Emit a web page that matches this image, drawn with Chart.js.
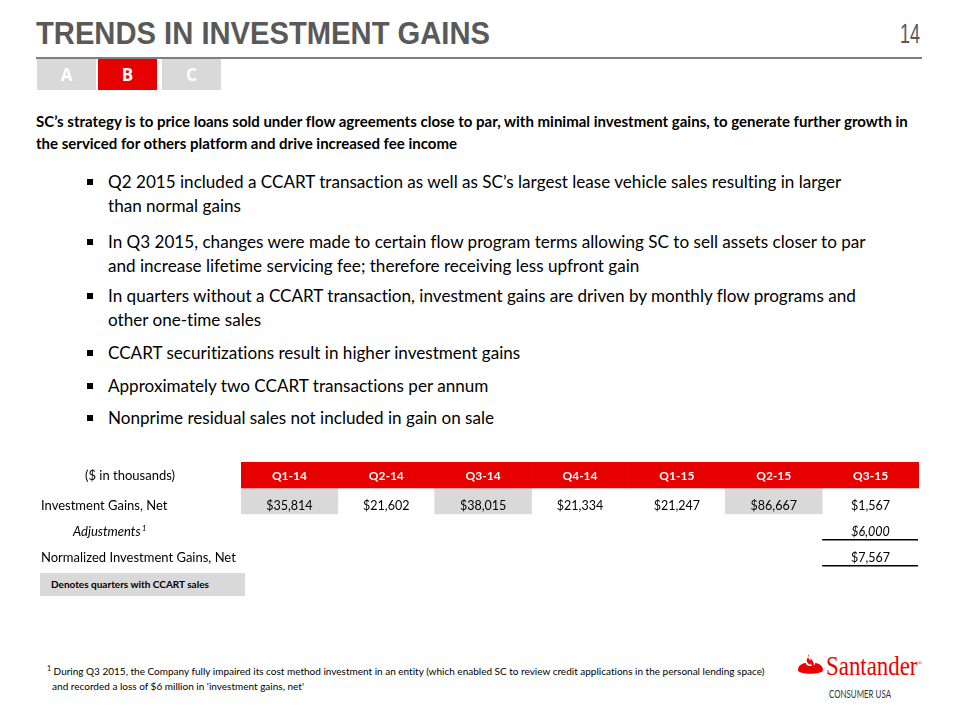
<!DOCTYPE html>
<html>
<head>
<meta charset="utf-8">
<script src="https://cdn.jsdelivr.net/npm/chart.js@4"></script>
<style>
  body { margin:0; width:960px; height:720px; background:#fff; position:relative; overflow:hidden; font-family:Lato, "Open Sans", sans-serif; color:#000; font-variant-ligatures:none; }
  .abs { position:absolute; white-space:nowrap; }
  .fit { transform-origin:0 0; }
  #title { left:36px; top:15px; font:bold 32px "Liberation Sans", sans-serif; color:#595959; }
  #pagenum { left:900px; top:19px; font:27px "Liberation Sans", sans-serif; color:#595959; }
  #rule { left:36px; top:57px; width:886px; height:2px; background:#7f7f7f; }
  .tab { position:absolute; top:59px; width:59px; height:31px; background:#d9d9d9; color:#fff; font:bold 17px "Open Sans", sans-serif; text-align:center; line-height:31px; }
  #intro { left:36px; top:110px; font-weight:bold; font-size:15px; line-height:22px; }
  .bullet { position:absolute; left:108px; font-size:17.1px; line-height:24px; white-space:nowrap; }
  .bullet::before { content:""; position:absolute; left:-21px; top:9px; width:6px; height:6px; background:#000; }
  #legendBox { left:40px; top:573px; width:205px; height:23px; background:#d9d9d9; font:bold 10px Lato, sans-serif; line-height:23px; padding-left:11px; box-sizing:border-box; }
  #footnote { left:47px; top:661px; font-size:10px; line-height:15px; color:#000; }
  #logoText { left:826px; top:651px; font:27px "Liberation Serif", serif; color:#ec0000; }
  #logoSub { left:829px; top:687px; font:11px Lato, sans-serif; color:#333; }
</style>
</head>
<body>
<div id="title" class="abs fit" data-w="454">TRENDS IN INVESTMENT GAINS</div>
<div id="pagenum" class="abs fit" data-w="20">14</div>
<div id="rule" class="abs"></div>
<div class="tab" style="left:37px">A</div>
<div class="tab" style="left:98px;background:#e60000">B</div>
<div class="tab" style="left:162px">C</div>

<div id="intro" class="abs">SC’s strategy is to price loans sold under flow agreements close to par, with minimal investment gains, to generate further growth in<br>the serviced for others platform and drive increased fee income</div>

<div class="bullet" style="top:170px">Q2 2015 included a CCART transaction as well as SC’s largest lease vehicle sales resulting in larger<br>than normal gains</div>
<div class="bullet" style="top:230px">In Q3 2015, changes were made to certain flow program terms allowing SC to sell assets closer to par<br>and increase lifetime servicing fee; therefore receiving less upfront gain</div>
<div class="bullet" style="top:284px">In quarters without a CCART transaction, investment gains are driven by monthly flow programs and<br>other one-time sales</div>
<div class="bullet" style="top:341px">CCART securitizations result in higher investment gains</div>
<div class="bullet" style="top:374px">Approximately two CCART transactions per annum</div>
<div class="bullet" style="top:406px">Nonprime residual sales not included in gain on sale</div>

<canvas id="tableChart" width="960" height="150" style="position:absolute;left:0;top:452px"></canvas>

<div id="legendBox" class="abs">Denotes quarters with CCART sales</div>

<div id="footnote" class="abs"><sup style="font-size:7px">1</sup> During Q3 2015, the Company fully impaired its cost method investment in an entity (which enabled SC to review credit applications in the personal lending space)<br>&nbsp;&nbsp;and recorded a loss of $6 million in 'investment gains, net'</div>

<svg class="abs" style="left:797px;top:653px" width="27" height="26" viewBox="0 0 27 26">
  <path d="M1 17 C1 12, 6 10, 9 10 C8 14, 19 14, 18 10 C22 10, 26 13, 26 17 C26 22, 1 22, 1 17 Z" fill="#ec0000"/>
  <path d="M12 1 C8 5, 16 7, 13 12 C11 10, 9 9, 10 6 C11 4, 12 3, 12 1 Z" fill="#ec0000"/>
  <path d="M14 4 C13 7, 19 9, 16 14 C15 12, 13 11, 13 9 C13 7, 14 6, 14 4 Z" fill="#ec0000"/>
</svg>
<div id="logoText" class="abs fit" data-w="96">Santander<sup style="font-size:7px">®</sup></div>
<div id="logoSub" class="abs fit" data-w="62">CONSUMER USA</div>

<script>
const quarters = ["Q1-14", "Q2-14", "Q3-14", "Q4-14", "Q1-15", "Q2-15", "Q3-15"]
const investmentGains = [35814, 21602, 38015, 21334, 21247, 86667, 1567]
const adjustments = [null, null, null, null, null, null, 6000]
const normalizedGains = [null, null, null, null, null, null, 7567]
const ccartQuarters = [true, false, true, false, false, true, false]
const rowLabels = ["($ in thousands)", "Investment Gains, Net", "Adjustments", "Normalized Investment Gains, Net"]

const red = "#e60000"
const gray = "#d9d9d9"

// squeeze the narrow-font texts to the width they have in the slide
document.querySelectorAll(".fit").forEach(el => {
    const w = el.getBoundingClientRect().width
    el.style.transform = "scaleX(" + (el.dataset.w / w) + ")"
})

function money(v){
    return "$" + v.toLocaleString("en-US")
}

// text, row labels and underlines go on top of the bars
const tableText = {
    id: "tableText",
    afterDatasetsDraw(chart){
        const {ctx, scales:{x, y}} = chart
        ctx.save()
        ctx.textBaseline = "middle"
        ctx.textAlign = "center"
        // header
        ctx.fillStyle = "#fff"
        ctx.font = "bold 12px Lato, 'Open Sans', sans-serif"
        quarters.forEach((q, i) => {
            ctx.fillText(q, x.getPixelForValue(i), y.getPixelForValue(0.5) + 1)
        })
        // values
        ctx.fillStyle = "#000"
        const rows = [investmentGains, adjustments, normalizedGains]
        rows.forEach((row, r) => {
            const ty = y.getPixelForValue(r + 1.5) + 5
            ctx.font = (r == 1 ? "italic " : "") + "12.5px Lato, 'Open Sans', sans-serif"
            row.forEach((v, i) => {
                if (v == null) return
                ctx.fillText(money(v), x.getPixelForValue(i), ty)
                if (r > 0){
                    const half = x.width / quarters.length / 2
                    const ly = y.getPixelForValue(r + 2) - 0.5
                    ctx.fillRect(x.getPixelForValue(i) - half, ly - 0.5, half * 2 - 1, 1.5)
                }
            })
        })
        // row labels
        ctx.font = "13px Lato, 'Open Sans', sans-serif"
        ctx.fillText(rowLabels[0], 130, y.getPixelForValue(0.5) + 1)
        ctx.textAlign = "left"
        ctx.fillText(rowLabels[1], 41, y.getPixelForValue(1.5) + 5)
        ctx.font = "italic 13px Lato, 'Open Sans', sans-serif"
        ctx.fillText(rowLabels[2], 73, y.getPixelForValue(2.5) + 5)
        const w = ctx.measureText(rowLabels[2]).width
        ctx.font = "italic 8px Lato, 'Open Sans', sans-serif"
        ctx.fillText("1", 73 + w + 1, y.getPixelForValue(2.5) + 1)
        ctx.font = "13px Lato, 'Open Sans', sans-serif"
        ctx.fillText(rowLabels[3], 41, y.getPixelForValue(3.5) + 5)
        ctx.restore()
    }
}

new Chart(document.getElementById("tableChart"), {
    type: "bar",
    data: {
        labels: quarters,
        datasets: [
            {
                label: "header",
                data: quarters.map(() => [0, 1]),
                backgroundColor: red,
                grouped: false
            },
            {
                label: "CCART",
                data: ccartQuarters.map(c => c ? [1, 2] : null),
                backgroundColor: gray,
                grouped: false
            }
        ]
    },
    options: {
        responsive: false,
        animation: false,
        barPercentage: 1,
        categoryPercentage: 1,
        layout: { padding: { left: 241, right: 41, top: 10, bottom: 36 } },
        scales: {
            x: { display: false },
            y: { display: false, min: 0, max: 4, reverse: true }
        },
        plugins: {
            legend: { display: false },
            tooltip: { enabled: false }
        }
    },
    plugins: [tableText]
})
</script>
</body>
</html>
